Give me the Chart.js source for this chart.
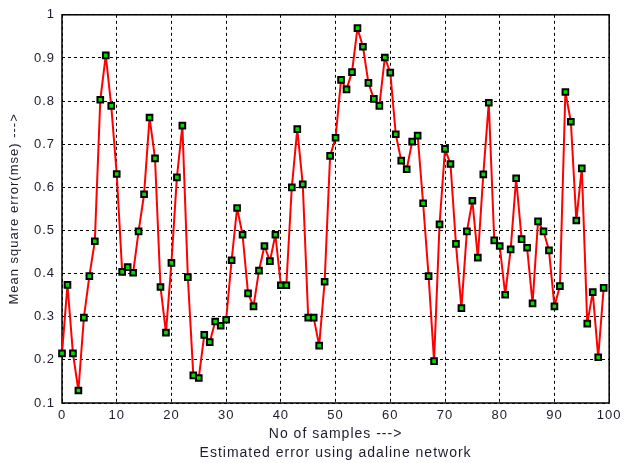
<!DOCTYPE html>
<html>
<head>
<meta charset="utf-8">
<script src="https://cdn.jsdelivr.net/npm/chart.js@4.4.0/dist/chart.umd.min.js"></script>
<style>
  body { margin: 0; background: #fff; }
  #myChart { display: block; }
</style>
</head>
<body>
<canvas id="myChart" width="625" height="463"></canvas>
<script>
// sample index (x) and estimated mean square error (y)
var samples = [
  0, 1, 2, 3, 4, 5, 6, 7, 8, 9,
  10, 11, 12, 13, 14, 15, 16, 17, 18, 19,
  20, 21, 22, 23, 24, 25, 26, 27, 28, 29,
  30, 31, 32, 33, 34, 35, 36, 37, 38, 39,
  40, 41, 42, 43, 44, 45, 46, 47, 48, 49,
  50, 51, 52, 53, 54, 55, 56, 57, 58, 59,
  60, 61, 62, 63, 64, 65, 66, 67, 68, 69,
  70, 71, 72, 73, 74, 75, 76, 77, 78, 79,
  80, 81, 82, 83, 84, 85, 86, 87, 88, 89,
  90, 91, 92, 93, 94, 95, 96, 97, 98, 99
];
var mse = [
  0.215, 0.374, 0.215, 0.129, 0.298, 0.394, 0.475, 0.803, 0.906, 0.789,
  0.631, 0.404, 0.415, 0.402, 0.498, 0.584, 0.762, 0.667, 0.369, 0.263,
  0.425, 0.623, 0.743, 0.392, 0.164, 0.158, 0.258, 0.241, 0.289, 0.279,
  0.293, 0.431, 0.552, 0.490, 0.354, 0.324, 0.407, 0.464, 0.429, 0.490,
  0.373, 0.373, 0.600, 0.735, 0.607, 0.298, 0.298, 0.233, 0.381, 0.673,
  0.715, 0.849, 0.827, 0.867, 0.969, 0.926, 0.842, 0.805, 0.789, 0.901,
  0.866, 0.723, 0.662, 0.642, 0.706, 0.720, 0.563, 0.394, 0.197, 0.514,
  0.689, 0.654, 0.469, 0.320, 0.498, 0.569, 0.437, 0.630, 0.796, 0.477,
  0.464, 0.351, 0.456, 0.621, 0.480, 0.460, 0.331, 0.521, 0.498, 0.454,
  0.324, 0.371, 0.821, 0.752, 0.523, 0.644, 0.284, 0.357, 0.206, 0.367
];
var xTicks = [0, 10, 20, 30, 40, 50, 60, 70, 80, 90, 100];
var yTicks = [0.1, 0.2, 0.3, 0.4, 0.5, 0.6, 0.7, 0.8, 0.9, 1];

var points = samples.map(function (s, i) {
  return { x: s, y: mse[i] };
});

var textColor = "#1c1c2c";
var fontFamily = "'Liberation Sans', Arial, sans-serif";

// solid frame round the plot area (matlab box) + wider text tracking
var boxPlugin = {
  id: "box",
  beforeDraw: function (chart) {
    chart.ctx.letterSpacing = "1px";
  },
  beforeDatasetsDraw: function (chart) {
    var a = chart.chartArea;
    var ctx = chart.ctx;
    ctx.save();
    ctx.strokeStyle = "#000";
    ctx.lineWidth = 1.5;
    ctx.setLineDash([]);
    ctx.strokeRect(a.left, a.top, a.right - a.left, a.bottom - a.top);
    ctx.restore();
  }
};

new Chart("myChart", {
  type: "line",
  data: {
    datasets: [
      {
        data: points,
        borderColor: "#ff0000",
        borderWidth: 2,
        borderJoinStyle: "round",
        tension: 0,
        pointStyle: "rect",
        pointRadius: 4,
        pointBorderWidth: 2,
        pointBorderColor: "#000",
        pointBackgroundColor: "#00dd00",
        clip: false
      }
    ]
  },
  options: {
    responsive: false,
    animation: false,
    layout: { padding: { left: 0, right: 12, top: 12, bottom: 0 } },
    plugins: {
      legend: { display: false },
      tooltip: { enabled: false }
    },
    scales: {
      x: {
        type: "linear",
        min: 0,
        max: 100,
        afterBuildTicks: function (scale) {
          scale.ticks = xTicks.map(function (v) { return { value: v }; });
        },
        afterFit: function (scale) { scale.height = 60; },
        grid: { color: "#000", lineWidth: 1, drawTicks: false },
        border: { display: false, dash: [3, 3] },
        ticks: {
          padding: 5,
          color: textColor,
          font: { family: fontFamily, size: 13 },
          maxRotation: 0
        },
        title: {
          display: true,
          text: ["No of samples --->", "Estimated error using adaline network"],
          color: textColor,
          font: { family: fontFamily, size: 14, lineHeight: 1.36 },
          padding: { top: 0, bottom: 0 }
        }
      },
      y: {
        type: "linear",
        min: 0.1,
        max: 1,
        afterBuildTicks: function (scale) {
          scale.ticks = yTicks.map(function (v) { return { value: v }; });
        },
        afterFit: function (scale) { scale.width = 62; },
        grid: { color: "#000", lineWidth: 1, drawTicks: false },
        border: { display: false, dash: [3, 3] },
        ticks: {
          padding: 7,
          color: textColor,
          font: { family: fontFamily, size: 13 },
          callback: function (v) {
            return v === 1 ? "1" : v.toFixed(1);
          }
        },
        title: {
          display: true,
          text: "Mean square error(mse) --->",
          color: textColor,
          font: { family: fontFamily, size: 13 },
          padding: { top: 7, bottom: 0 }
        }
      }
    }
  },
  plugins: [boxPlugin]
});
</script>
</body>
</html>
